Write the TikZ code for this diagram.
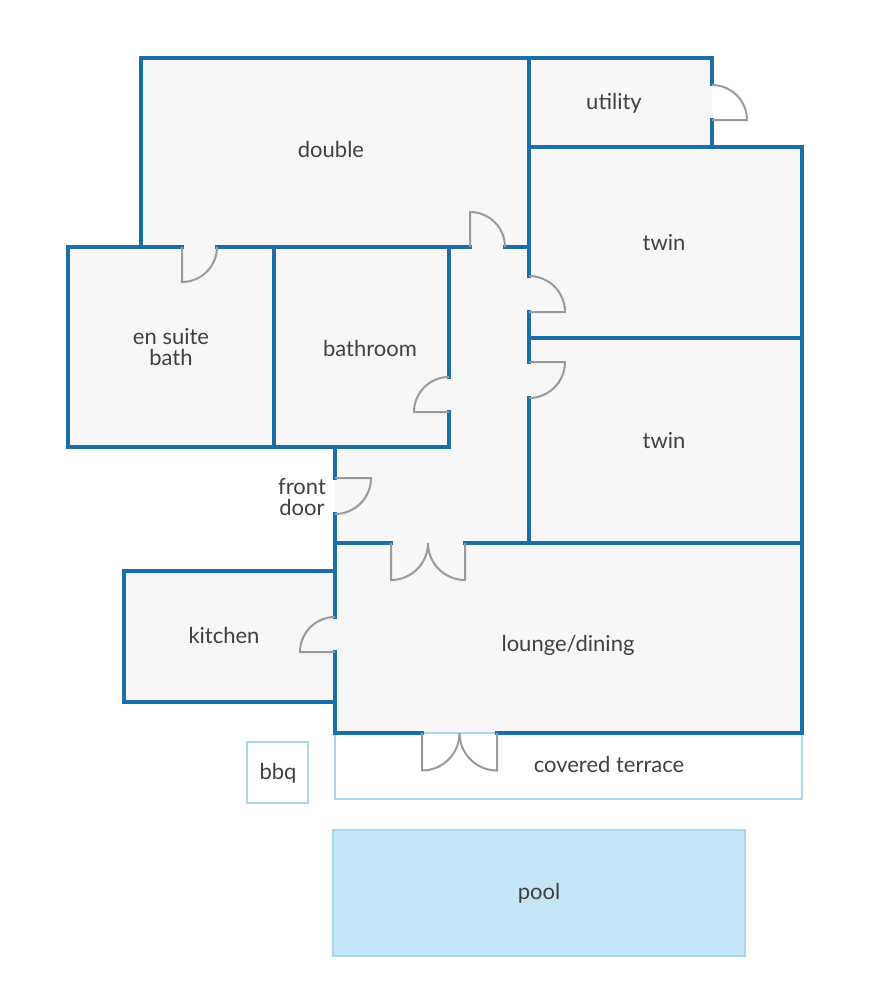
\documentclass[tikz,border=0pt]{standalone}
\usepackage{fontspec}
\setmainfont{Lato}
\definecolor{wall}{HTML}{1B6EA8}
\definecolor{outdoor}{HTML}{A8D5F0}
\definecolor{water}{HTML}{C5E5F8}
\definecolor{floor}{HTML}{F7F7F8}
\definecolor{leaf}{HTML}{9A9A9A}
\definecolor{ink}{HTML}{404040}
\tikzset{
	wallline/.style={draw=wall, line width=4.5pt, line cap=rect},
	doorline/.style={draw=leaf, line width=2pt},
	label/.style={text=ink, font=\fontsize{22}{21}\selectfont, align=center, inner sep=1pt}
}
\begin{document}
\begin{tikzpicture}[x=1pt, y=-1pt]
	\useasboundingbox (0, 0) rectangle (880, 996);
	% floors
	\fill[floor] (141, 58) rectangle (712, 247);
	\fill[floor] (529, 147) rectangle (802, 733);
	\fill[floor] (68, 247) rectangle (529, 447);
	\fill[floor] (335, 447) rectangle (529, 543);
	\fill[floor] (124, 571) rectangle (335, 702);
	\fill[floor] (335, 543) rectangle (802, 733);
	% outdoor
	\draw[outdoor, line width=2.5pt] (335, 733) rectangle (802, 799);
	\draw[outdoor, line width=2.5pt] (247, 742) rectangle (308, 803);
	\draw[outdoor, fill=water, line width=2.5pt] (333, 830) rectangle (745, 956);
	% walls
	\draw[wallline] (141, 247) -- (141, 58) -- (712, 58) -- (712, 84);
	\draw[wallline] (712, 120) -- (712, 147);
	\draw[wallline] (529, 147) -- (802, 147) -- (802, 733) -- (497, 733);
	\draw[wallline] (422, 733) -- (335, 733) -- (335, 652);
	\draw[wallline] (529, 58) -- (529, 276);
	\draw[wallline] (529, 312) -- (529, 362);
	\draw[wallline] (529, 398) -- (529, 543);
	\draw[wallline] (529, 338) -- (802, 338);
	\draw[wallline] (335, 543) -- (391, 543);
	\draw[wallline] (465, 543) -- (802, 543);
	\draw[wallline] (182, 247) -- (68, 247) -- (68, 447) -- (449, 447) -- (449, 412);
	\draw[wallline] (449, 377) -- (449, 247);
	\draw[wallline] (217, 247) -- (470, 247);
	\draw[wallline] (505, 247) -- (529, 247);
	\draw[wallline] (274, 247) -- (274, 447);
	\draw[wallline] (335, 447) -- (335, 478);
	\draw[wallline] (335, 514) -- (335, 617);
	\draw[wallline] (335, 571) -- (124, 571) -- (124, 702) -- (335, 702);
	% doors
	\draw[doorline] (712, 120) -- +(0:35) arc[start angle=0, end angle=-90, radius=35];
	\draw[doorline] (182, 247) -- +(90:35) arc[start angle=90, end angle=0, radius=35];
	\draw[doorline] (470, 247) -- +(-90:35) arc[start angle=-90, end angle=0, radius=35];
	\draw[doorline] (529, 312) -- +(0:36) arc[start angle=0, end angle=-90, radius=36];
	\draw[doorline] (529, 362) -- +(0:36) arc[start angle=0, end angle=90, radius=36];
	\draw[doorline] (449, 412) -- +(180:35) arc[start angle=180, end angle=270, radius=35];
	\draw[doorline] (335, 478) -- +(0:36) arc[start angle=0, end angle=90, radius=36];
	\draw[doorline] (335, 652) -- +(180:35) arc[start angle=180, end angle=270, radius=35];
	\draw[doorline] (391, 543) -- +(90:37) arc[start angle=90, end angle=0, radius=37];
	\draw[doorline] (465, 543) -- +(90:37) arc[start angle=90, end angle=180, radius=37];
	\draw[doorline] (422, 733) -- +(90:37.5) arc[start angle=90, end angle=0, radius=37.5];
	\draw[doorline] (497, 733) -- +(90:37.5) arc[start angle=90, end angle=180, radius=37.5];
	% labels
	\node[label] (double) at (331, 149) {double};
	\node[label] (utility) at (614, 103) {utility};
	\node[label] (twinA) at (664, 243) {twin};
	\node[label] (twinB) at (664, 441) {twin};
	\node[label] (ensuite) at (171, 347) {en suite\\bath};
	\node[label] (bathroom) at (370, 348) {bathroom};
	\node[label] (frontdoor) at (302, 497) {front\\door};
	\node[label] (kitchen) at (224, 635) {kitchen};
	\node[label] (lounge) at (568, 645) {lounge/dining};
	\node[label] (terrace) at (609, 764) {covered terrace};
	\node[label] (bbq) at (278, 773) {bbq};
	\node[label] (pool) at (539, 893) {pool};
\end{tikzpicture}
\end{document}
